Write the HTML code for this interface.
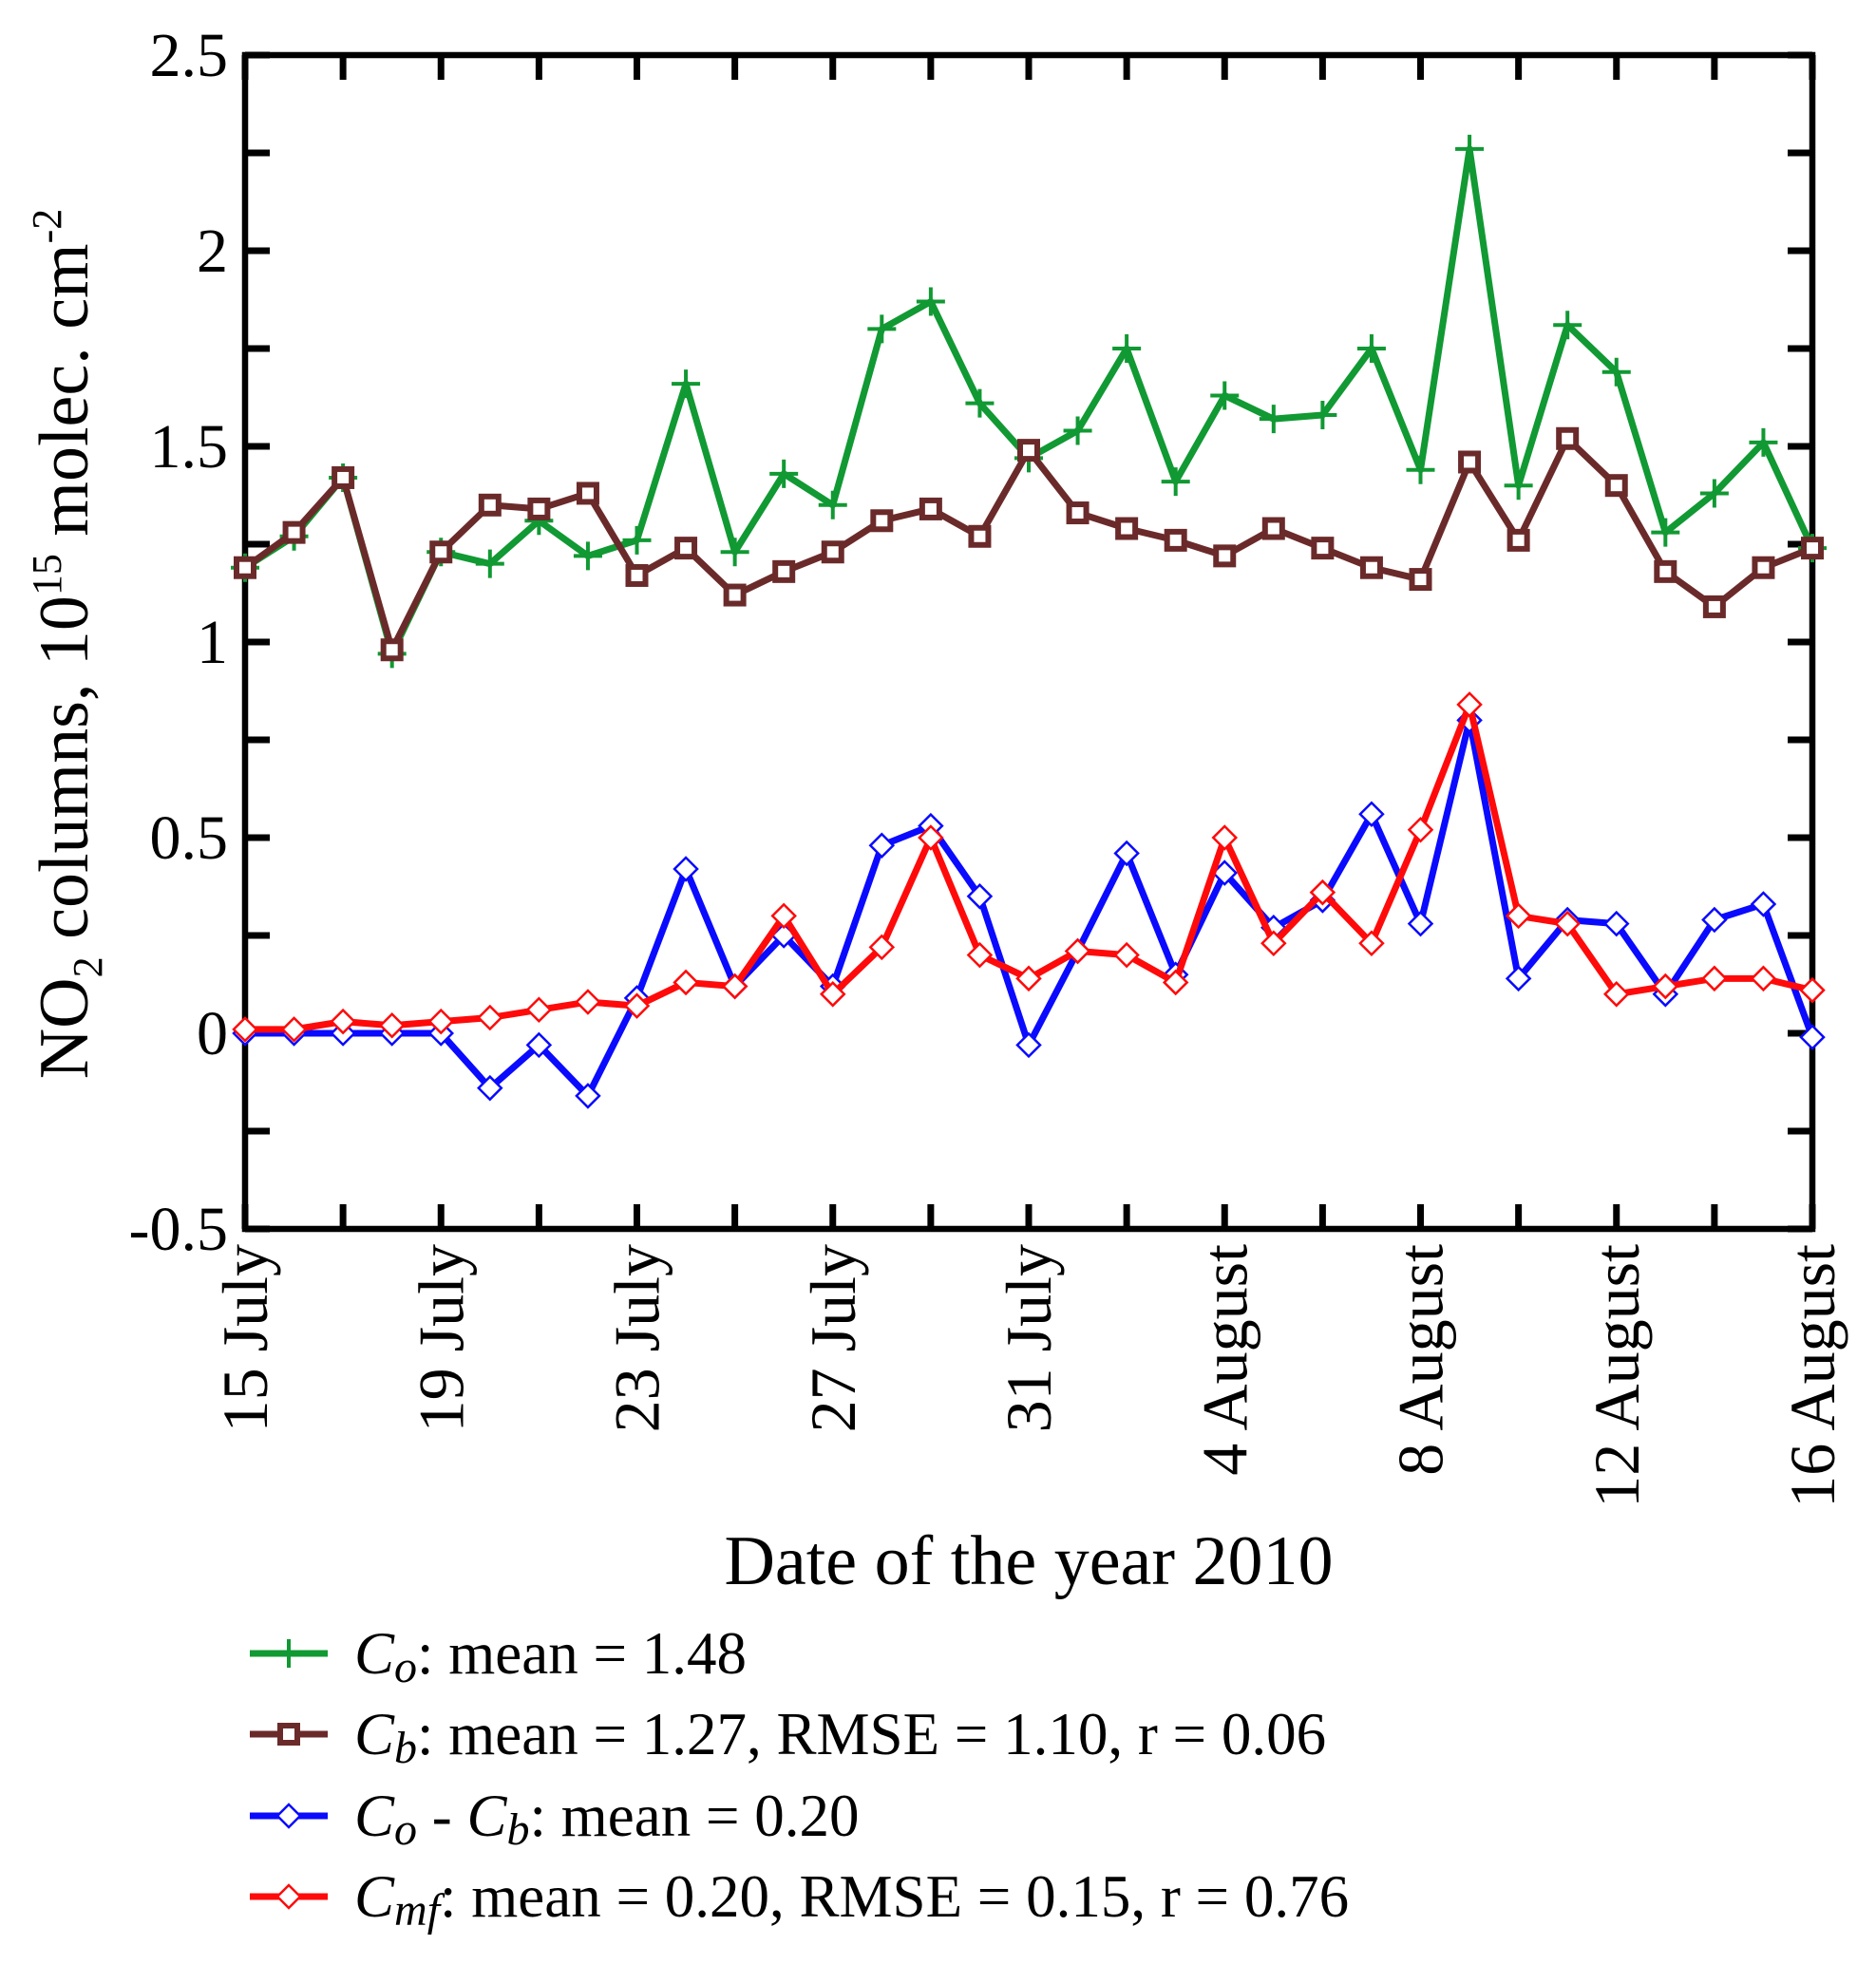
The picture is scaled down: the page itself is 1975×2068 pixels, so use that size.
<!DOCTYPE html>
<html><head><meta charset="utf-8"><style>
body{margin:0;background:#fff}
svg{display:block}
text{font-family:"Liberation Serif",serif;fill:#000}
</style></head><body>
<svg id="chart" width="1975" height="2068" viewBox="0 0 1975 2068" xmlns="http://www.w3.org/2000/svg">
<g id="plot"></g>
<text x="1083" y="1668" font-size="74" text-anchor="middle">Date of the year 2010</text>
<text transform="translate(92,678) rotate(-90)" font-size="74" text-anchor="middle">NO<tspan font-size="44" dy="15">2</tspan><tspan dy="-15"> columns, 10</tspan><tspan font-size="44" dy="-28">15</tspan><tspan dy="28"> molec. cm</tspan><tspan font-size="44" dy="-28">-2</tspan></text>
<g id="legend"></g>
</svg>
<script>
const days = ["15 July","16","17","18","19 July","20","21","22","23 July","24","25","26","27 July","28","29","30","31 July","1","2","3","4 August","5","6","7","8 August","9","10","11","12 August","13","14","15","16 August"];
const tickLabels = ["15 July","19 July","23 July","27 July","31 July","4 August","8 August","12 August","16 August"];
const yTicks = [-0.5,0,0.5,1,1.5,2,2.5];
const yTickLabels = ["-0.5","0","0.5","1","1.5","2","2.5"];
const co = [1.19,1.27,1.42,0.97,1.23,1.20,1.31,1.22,1.26,1.66,1.23,1.43,1.35,1.80,1.87,1.61,1.47,1.54,1.75,1.41,1.63,1.57,1.58,1.75,1.44,2.26,1.40,1.81,1.69,1.28,1.38,1.51,1.24];
const cb = [1.19,1.28,1.42,0.98,1.23,1.35,1.34,1.38,1.17,1.24,1.12,1.18,1.23,1.31,1.34,1.27,1.49,1.33,1.29,1.26,1.22,1.29,1.24,1.19,1.16,1.46,1.26,1.52,1.40,1.18,1.09,1.19,1.24];
const diff = [0,0,0,0,0,-0.14,-0.03,-0.16,0.09,0.42,0.12,0.25,0.12,0.48,0.53,0.35,-0.03,0.21,0.46,0.15,0.41,0.27,0.34,0.56,0.28,0.80,0.14,0.29,0.28,0.10,0.29,0.33,-0.01];
const cmf = [0.01,0.01,0.03,0.02,0.03,0.04,0.06,0.08,0.07,0.13,0.12,0.30,0.10,0.22,0.50,0.20,0.14,0.21,0.20,0.13,0.50,0.23,0.36,0.23,0.52,0.84,0.30,0.28,0.10,0.12,0.14,0.14,0.11];

const L=258,R=1908,T=58,B=1294;
const X=i=>L+(R-L)*i/32;
const Y=v=>B-(B-T)*(v+0.5)/3;
const NS="http://www.w3.org/2000/svg";
const plot=document.getElementById('plot');
function el(tag,attrs,parent){const e=document.createElementNS(NS,tag);for(const k in attrs)e.setAttribute(k,attrs[k]);(parent||plot).appendChild(e);return e;}

for(let i=0;i<=32;i+=2){
  let t=el('line',{x1:X(i),x2:X(i),y1:B,y2:B-26,stroke:'#000','stroke-width':7});
  
  
  let t2=el('line',{x1:X(i),x2:X(i),y1:T,y2:T+26,stroke:'#000','stroke-width':7});
  
  
}
for(let v=-0.5;v<=2.5001;v+=0.25){
  let t=el('line',{x1:L,x2:L+26,y1:Y(v),y2:Y(v),stroke:'#000','stroke-width':7});
  
  
  let t2=el('line',{x1:R,x2:R-26,y1:Y(v),y2:Y(v),stroke:'#000','stroke-width':7});
  
  
}
yTicks.forEach((v,i)=>{
  let t=el('text',{x:240,y:Y(v)+22,'font-size':66,'text-anchor':'end'});
  t.textContent=yTickLabels[i];
  
  
});
tickLabels.forEach((s,k)=>{
  const x=X(k*4)+23;
  let t=el('text',{transform:`translate(${x},1310) rotate(-90)`,'font-size':68,'text-anchor':'end'});
  t.textContent=s;
  
  
});
let frame=el('rect',{x:L,y:T,width:R-L,height:B-T,fill:'none',stroke:'#000','stroke-width':6.5});



function marker(type,x,y,color,parent){
  let m;
  if(type==='plus') m=el('path',{d:`M${x-15},${y}H${x+15}M${x},${y-15}V${y+15}`,stroke:color,'stroke-width':4,fill:'none'},parent);
  else if(type==='square') m=el('rect',{x:x-9,y:y-9,width:18,height:18,stroke:color,'stroke-width':6,fill:'#fff'},parent);
  else m=el('path',{d:`M${x},${y-12}L${x+12},${y}L${x},${y+12}L${x-12},${y}Z`,stroke:color,'stroke-width':2.5,fill:'#fff'},parent);
  return m;
}
const series=[
  {data:co,color:'#119933',type:'plus',name:'co'},
  {data:cb,color:'#6b2a2a',type:'square',name:'cb'},
  {data:diff,color:'#0a0aff',type:'diamond',name:'co-minus-cb'},
  {data:cmf,color:'#ff0a0a',type:'diamond',name:'cmf'}
];
series.forEach(s=>{
  const g=el('g',{});
  
  
  let p=el('polyline',{points:s.data.map((v,i)=>X(i)+','+Y(v)).join(' '),fill:'none',stroke:s.color,'stroke-width':7,'stroke-linejoin':'round'},g);
  
  
  s.data.forEach((v,i)=>{
    let m=marker(s.type,X(i),Y(v),s.color,g);
    
    
  });
});

const leg=document.getElementById('legend');
const legendTexts=[
 '<tspan font-style="italic">C<tspan font-size="48" dy="9">o</tspan></tspan><tspan dy="-9">: mean = 1.48</tspan>',
 '<tspan font-style="italic">C<tspan font-size="48" dy="9">b</tspan></tspan><tspan dy="-9">: mean = 1.27, RMSE = 1.10, r = 0.06</tspan>',
 '<tspan font-style="italic">C<tspan font-size="48" dy="9">o</tspan></tspan><tspan dy="-9"> - </tspan><tspan font-style="italic">C<tspan font-size="48" dy="9">b</tspan></tspan><tspan dy="-9">: mean = 0.20</tspan>',
 '<tspan font-style="italic">C<tspan font-size="48" dy="9">mf</tspan></tspan><tspan dy="-9">: mean = 0.20, RMSE = 0.15, r = 0.76</tspan>'
];
const legY=[1741,1826,1912,1997];
series.forEach((s,i)=>{
  const g=el('g',{},leg);
  
  
  el('line',{x1:263,x2:345,y1:legY[i],y2:legY[i],stroke:s.color,'stroke-width':7},g);
  marker(s.type,304,legY[i],s.color,g);
  const t=el('text',{x:373,y:legY[i]+21,'font-size':63},g);
  t.innerHTML=legendTexts[i];
});
</script>
</body></html>
